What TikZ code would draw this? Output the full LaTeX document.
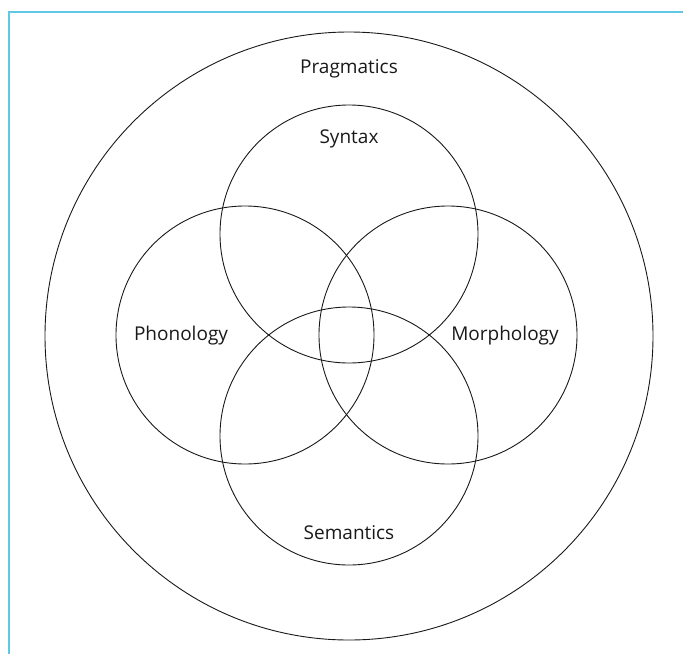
\documentclass[tikz,border=0pt]{standalone}
\usepackage{fontspec}
\setmainfont{Open Sans}
\definecolor{frameblue}{RGB}{95,200,228}
\definecolor{ink}{RGB}{25,25,25}
\begin{document}
\begin{tikzpicture}[x=1pt,y=-1pt,
  ring/.style={circle,draw=ink,line width=0.9pt,inner sep=0pt,minimum size=#1},
  lab/.style={font=\fontsize{19}{22}\selectfont,text=ink,inner sep=0pt}]
\useasboundingbox (0,0) rectangle (683,654);
% frame lines
\coordinate (fc) at (8.8,11.8);
\coordinate (fr) at (683,11.8);
\coordinate (fb) at (8.8,654);
\draw[frameblue,line width=1.6pt] (fr) -- (fc) -- (fb);
% circles
\node[ring=608pt] (prag) at (349,336) {};
\node[ring=258pt] (syn) at (349,234) {};
\node[ring=258pt] (sem) at (349,436) {};
\node[ring=258pt] (pho) at (245,335) {};
\node[ring=258pt] (mor) at (448,335) {};
% labels
\node[lab] (tprag) at (349,69) {Pragmatics};
\node[lab] (tsyn) at (349,139) {Syntax};
\node[lab] (tpho) at (181,336) {Phonology};
\node[lab] (tmor) at (505,336) {Morphology};
\node[lab] (tsem) at (349,533) {Semantics};
\end{tikzpicture}
\end{document}
